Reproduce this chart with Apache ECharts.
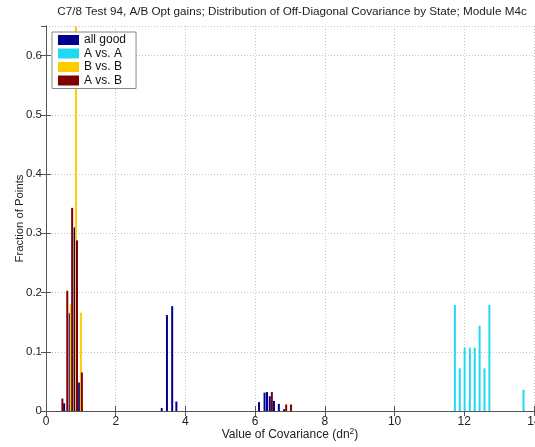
<!DOCTYPE html>
<html>
<head>
<meta charset="utf-8">
<script src="https://cdn.jsdelivr.net/npm/echarts@6/dist/echarts.min.js"></script>
<style>
html,body{margin:0;padding:0;background:#fff;overflow:hidden;}
#c{width:535px;height:447px;}
</style>
</head>
<body>
<div id="c"></div>
<script>
// ---- data ----
const titleText = 'C7/8 Test 94, A/B Opt gains; Distribution of Off-Diagonal Covariance by State; Module M4c';
const seriesNames = ['all good', 'A vs. A', 'B vs. B', 'A vs. B'];

const allGoodX = [0.52, 0.68, 0.82, 0.95, 3.32, 3.47, 3.62, 3.74, 6.11, 6.27, 6.34, 6.42, 6.54, 6.68, 6.83];
const allGoodY = [0.013, 0.165, 0.31, 0.048, 0.005, 0.162, 0.177, 0.016, 0.015, 0.031, 0.032, 0.025, 0.017, 0.012, 0.003];

const aVsAX = [11.73, 11.87, 12.01, 12.16, 12.30, 12.44, 12.58, 12.72, 13.70];
const aVsAY = [0.179, 0.072, 0.107, 0.107, 0.107, 0.144, 0.072, 0.179, 0.036];

const bVsBX = [0.71, 0.86, 1.00];
const bVsBY = [0.18, 0.70, 0.166];

const aVsBX = [0.47, 0.61, 0.75, 0.89, 1.03, 6.48, 6.89, 7.03];
const aVsBY = [0.021, 0.203, 0.343, 0.288, 0.065, 0.032, 0.011, 0.011];

const xTicks = [0, 2, 4, 6, 8, 10, 12, 14];
const yTicks = [0, 0.1, 0.2, 0.3, 0.4, 0.5, 0.6];

const colors = ['#00008c', '#22d8f2', '#ffcc00', '#800000'];

function pairs(xs, ys) { return xs.map((x, i) => [x, ys[i]]); }

const FONT = 'Liberation Sans, Arial, sans-serif';
const chart = echarts.init(document.getElementById('c'), null, {renderer: 'canvas'});

const seriesData = [pairs(allGoodX, allGoodY), pairs(aVsAX, aVsAY), pairs(bVsBX, bVsBY), pairs(aVsBX, aVsBY)];

const option = {
  animation: false,
  backgroundColor: '#fff',
  textStyle: {fontFamily: FONT},
  title: {
    text: titleText,
    left: 292, top: 6, textAlign: 'center', padding: 0,
    textStyle: {fontFamily: FONT, fontSize: 11.7, fontWeight: 'normal', color: '#222'}
  },
  legend: {
    data: seriesNames,
    orient: 'vertical',
    left: 52, top: 32,
    padding: [2, 10, 2, 6],
    itemGap: 1.5,
    itemWidth: 21, itemHeight: 10,
    icon: 'rect',
    backgroundColor: '#fff',
    borderColor: '#888', borderWidth: 1,
    borderRadius: 0,
    textStyle: {fontFamily: FONT, fontSize: 12, color: '#111'},
    z: 10
  },
  grid: {left: 46, right: 1, top: 26, bottom: 36, containLabel: false, outerBoundsMode: 'none'},
  xAxis: [{
    type: 'value', position: 'bottom', min: xTicks[0], max: xTicks[xTicks.length - 1], interval: 2,
    name: 'Value of Covariance (dn{sup|2})',
    nameLocation: 'middle', nameGap: 16, nameMoveOverlap: false,
    nameTextStyle: {fontFamily: FONT, fontSize: 12, color: '#222',
      rich: {sup: {fontSize: 8.5, verticalAlign: 'top', padding: [0, 0, 7, 0], color: '#222', fontFamily: FONT}}},
    axisLine: {show: true, lineStyle: {color: '#555', width: 1}},
    axisTick: {show: true, inside: true, length: 5, lineStyle: {color: '#555'}},
    axisLabel: {fontFamily: FONT, fontSize: 12, color: '#222', margin: 5},
    splitLine: {show: true, lineStyle: {color: '#c4c4c4', type: [1, 2], width: 1}}
  }, {
    type: 'value', position: 'top', min: xTicks[0], max: xTicks[xTicks.length - 1], interval: 2,
    axisLine: {show: true, lineStyle: {color: '#555', width: 1}},
    axisTick: {show: true, inside: true, length: 5, lineStyle: {color: '#555'}},
    axisLabel: {show: false}, splitLine: {show: false}
  }],
  yAxis: [{
    type: 'value', position: 'left', min: 0, max: 0.65, interval: 0.1,
    name: 'Fraction of Points', nameLocation: 'middle', nameGap: 21, nameMoveOverlap: false,
    nameTextStyle: {fontFamily: FONT, fontSize: 11.3, color: '#222'},
    axisLine: {show: true, lineStyle: {color: '#555', width: 1}},
    axisTick: {show: true, inside: true, length: 5, lineStyle: {color: '#555'}},
    axisLabel: {fontFamily: FONT, fontSize: 11.5, color: '#222', margin: 4, showMaxLabel: false,
      formatter: v => (yTicks.some(t => Math.abs(t - v) < 1e-9) ? String(+v.toFixed(1)) : '')},
    splitLine: {show: true, lineStyle: {color: '#c4c4c4', type: [1, 2], width: 1}}
  }, {
    type: 'value', position: 'right', min: 0, max: 0.65, interval: 0.1,
    axisLine: {show: true, lineStyle: {color: '#555', width: 1}},
    axisTick: {show: true, inside: true, length: 5, lineStyle: {color: '#555'}},
    axisLabel: {show: false}, splitLine: {show: false}
  }],
  series: seriesNames.map((n, i) => ({
    name: n, type: 'bar', xAxisIndex: 0, yAxisIndex: 0,
    data: seriesData[i],
    barWidth: 2, barGap: '-100%',
    clip: true,
    itemStyle: {color: colors[i]},
    emphasis: {disabled: true}
  }))
};
chart.setOption(option);
</script>
</body>
</html>
